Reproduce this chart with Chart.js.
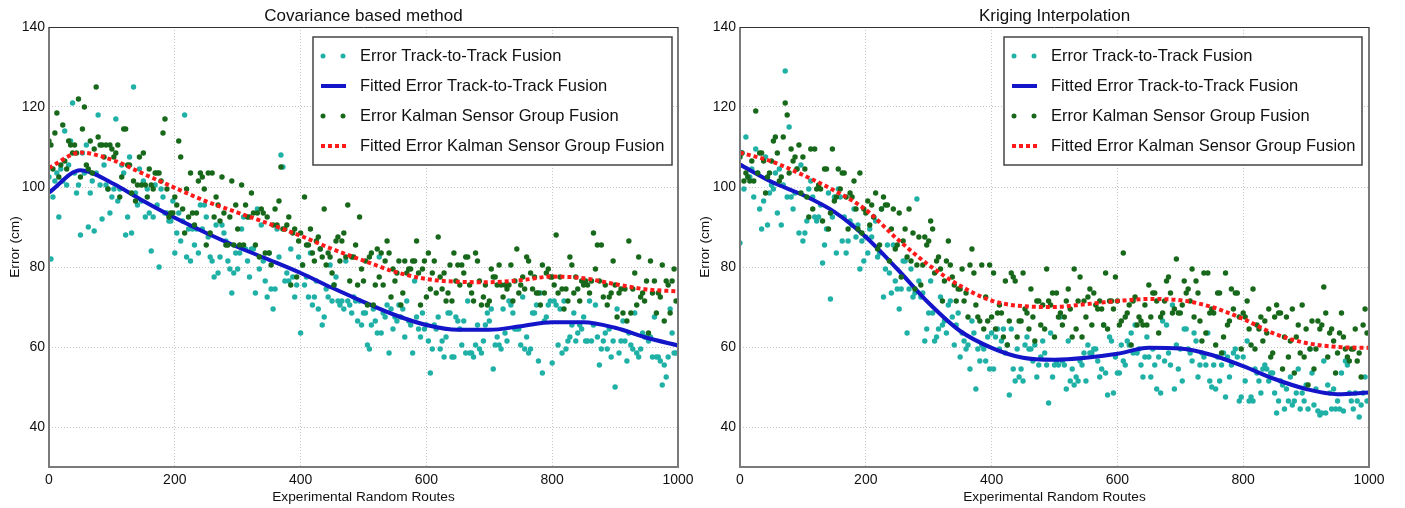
<!DOCTYPE html>
<html>
<head>
<meta charset="utf-8">
<title>Error vs routes</title>
<script src="https://cdn.jsdelivr.net/npm/chart.js@4.4.1/dist/chart.umd.min.js"></script>
<style>
  body { margin: 0; background: #fff; }
  #wrap { position: relative; width: 1405px; height: 508px; }
  canvas { position: absolute; top: 0; }
</style>
</head>
<body>
<div id="wrap">
  <canvas id="left" width="700" height="508" style="left:0"></canvas>
  <canvas id="right" width="715" height="508" style="left:690px"></canvas>
</div>
<script>
// Ticks
const xTicks = [0, 200, 400, 600, 800, 1000];
const yTicks = [40, 60, 80, 100, 120, 140];

// Fitted curves are sampled every 50 routes
const fitRoutes = [0, 50, 100, 150, 200, 250, 300, 350, 400, 450, 500, 550, 600, 650, 700, 750, 800, 850, 900, 950, 1000];

// Covariance based method
const covTrackErr = [
  102.5, 82, 97.5, 101.5, 103.5, 92.5, 104.5, 101.5, 114, 100.5,
  105.5, 111.5, 121, 103.5, 98.5, 100.5, 88, 108.5, 103.5, 110.5,
  90, 98.5, 101.5, 89, 103.5, 118, 100.5, 92, 105.5, 100.5,
  99.5, 93.5, 97.5, 99.5, 117, 96.5, 99.5, 105.5, 103.5, 88,
  92.5, 107.5, 88.5, 125, 98.5, 95.5, 104.5, 96.5, 101.5, 92.5,
  99.5, 93.5, 84, 92.5, 100.5, 95.5, 80, 99.5, 97.5, 93.5,
  93.5, 91.5, 91.5, 96.5, 83.5, 88.5, 93.5, 86.5, 91.5, 118,
  82.5, 89.5, 81.5, 89.5, 85.5, 89.5, 83.5, 95.5, 89.5, 95.5,
  92.5, 87.5, 82.5, 81.5, 77.5, 90.5, 78.5, 82.5, 90.5, 88.5,
  86.5, 81.5, 79.5, 73.5, 78.5, 83.5, 79.5, 83.5, 89.5, 92.5,
  84.5, 81.5, 77.5, 84.5, 84.5, 73.5, 94.5, 79.5, 90.5, 81.5,
  76.5, 72.5, 83.5, 74.5, 69.5, 74.5, 89.5, 82.5, 108, 105,
  76.5, 78.5, 76.5, 84.5, 77.5, 72.5, 75.5, 82.5, 63.5, 80.5,
  75.5, 77.5, 72.5, 83.5, 70.5, 72.5, 76.5, 69.5, 84.5, 65.5,
  67.5, 74.5, 72.5, 80.5, 71.5, 75.5, 77.5, 71.5, 70.5, 71.5,
  69.5, 81.5, 71.5, 70.5, 68.5, 72.5, 71.5, 66.5, 71.5, 65.5,
  68.5, 68.5, 60.5, 59.5, 65.5, 69.5, 66.5, 63.5, 82.5, 63.5,
  68.5, 67.5, 70.5, 58.5, 69.5, 64.5, 67.5, 66.5, 70.5, 67.5,
  69.5, 62.5, 71.5, 66.5, 65.5, 58.5, 76.5, 67.5, 64.5, 62.5,
  68.5, 64.5, 65.5, 61.5, 53.5, 59.5, 65.5, 64.5, 67.5, 59.5,
  61.5, 57.5, 62.5, 68.5, 68.5, 57.5, 57.5, 67.5, 66.5, 64.5,
  60.5, 66.5, 58.5, 71.5, 58.5, 58.5, 57.5, 60.5, 65.5, 59.5,
  58.5, 61.5, 65.5, 68.5, 66.5, 69.5, 54.5, 60.5, 62.5, 60.5,
  59.5, 69.5, 63.5, 61.5, 71.5, 70.5, 68.5, 64.5, 64.5, 64.5,
  60.5, 72.5, 59.5, 62.5, 58.5, 59.5, 68.5, 68.5, 70.5, 56.5,
  73.5, 53.5, 66.5, 67.5, 70.5, 71.5, 56, 71.5, 70.5, 60.5,
  69.5, 58.5, 71.5, 59.5, 61.5, 62.5, 65.5, 68.5, 61.5, 63.5,
  65.5, 64.5, 67.5, 61.5, 61.5, 71.5, 61.5, 65.5, 70.5, 62.5,
  55.5, 59.5, 61.5, 63.5, 59.5, 64.5, 57.5, 61.5, 50, 69.5,
  58.5, 61.5, 66.5, 61.5, 56.5, 63.5, 60.5, 59.5, 68.5, 58.5,
  57.5, 59.5, 63.5, 62.5, 62.5, 61.5, 62.5, 57.5, 67.5, 57.5,
  57.5, 56.5, 50.5, 55.5, 52.5, 57.5, 69.5, 63.5, 58.5, 58.5
];
const covTrackFit = [98.6, 104.2, 101, 96.5, 92.3, 88.5, 85, 81.8, 78.5, 74.8, 71.3, 68, 65.5, 64.3, 64.3, 65.2, 66.2, 66.2, 64.8, 62.3, 60.4];
const covKalmanErr = [
  111.5, 110.5, 104.5, 113.5, 118.5, 102.5, 105.5, 115.5, 106.5, 104.5,
  111.5, 110.5, 108.5, 110.5, 108.5, 122, 102.5, 114.5, 120, 105.5,
  104.5, 111.5, 103.5, 109.5, 125, 112.5, 110.5, 110.5, 107.5, 110.5,
  99.5, 110.5, 109.5, 107.5, 108.5, 110.5, 97.5, 102.5, 114.5, 114.5,
  105.5, 105.5, 98.5, 101.5, 96.5, 100.5, 107.5, 100.5, 108.5, 100.5,
  97.5, 104.5, 100.5, 99.5, 103.5, 103.5, 103.5, 101.5, 113.5, 117,
  99.5, 92.5, 93.5, 93.5, 97.5, 95.5, 111.5, 107.5, 94.5, 88.5,
  99.5, 92.5, 103.5, 93.5, 90.5, 93.5, 101.5, 103.5, 102.5, 99.5,
  85.5, 103.5, 88.5, 103.5, 92.5, 97.5, 95.5, 91.5, 102.5, 93.5,
  85.5, 85.5, 92.5, 101.5, 85.5, 95.5, 89.5, 85.5, 100.5, 85.5,
  95.5, 92.5, 92.5, 98.5, 93.5, 85.5, 93.5, 82.5, 94.5, 93.5,
  83.5, 92.5, 83.5, 80.5, 90.5, 94.5, 90.5, 96.5, 105, 89.5,
  89.5, 90.5, 92.5, 75.5, 88.5, 89.5, 77.5, 86.5, 88.5, 80.5,
  97.5, 85.5, 85.5, 89.5, 83.5, 81.5, 86.5, 87.5, 84.5, 82.5,
  94.5, 80.5, 83.5, 82.5, 78.5, 75.5, 86.5, 87.5, 81.5, 86.5,
  88.5, 82.5, 95.5, 76.5, 82.5, 82.5, 85.5, 75.5, 92.5, 79.5,
  76.5, 81.5, 70.5, 82.5, 83.5, 70.5, 75.5, 84.5, 77.5, 83.5,
  75.5, 81.5, 86.5, 83.5, 72.5, 79.5, 76.5, 78.5, 81.5, 70.5,
  73.5, 81.5, 78.5, 79.5, 79.5, 81.5, 81.5, 86.5, 78.5, 70.5,
  79.5, 81.5, 72.5, 83.5, 74.5, 78.5, 81.5, 73.5, 87.5, 77.5,
  74.5, 78.5, 71.5, 73.5, 80.5, 71.5, 83.5, 76.5, 80.5, 75.5,
  80.5, 78.5, 82.5, 82.5, 75.5, 73.5, 71.5, 83.5, 81.5, 76.5,
  70.5, 72.5, 75.5, 70.5, 71.5, 79.5, 77.5, 77.5, 75.5, 80.5,
  75.5, 72.5, 75.5, 74.5, 75.5, 80.5, 71.5, 76.5, 84.5, 73.5,
  75.5, 77.5, 74.5, 82.5, 81.5, 78.5, 74.5, 77.5, 73.5, 73.5,
  70.5, 80.5, 73.5, 78.5, 79.5, 77.5, 77.5, 75.5, 88, 73.5,
  77.5, 74.5, 69.5, 74.5, 71.5, 82.5, 80.5, 73.5, 77.5, 74.5,
  71.5, 76.5, 75.5, 76.5, 75.5, 73.5, 76.5, 88.5, 79.5, 85.5,
  76.5, 85.5, 72.5, 75.5, 70.5, 72.5, 73.5, 81.5, 75.5, 67.5,
  73.5, 74.5, 68.5, 74.5, 66.5, 86.5, 68.5, 74.5, 78.5, 70.5,
  82.5, 72.5, 73.5, 71.5, 76.5, 63.5, 81.5, 73.5, 76.5, 68.5,
  73.5, 72.5, 80.5, 66.5, 76.5, 75.5, 68.5, 76.5, 79.5, 71.5
];
const covKalmanFit = [104.8, 108.6, 106.8, 103.3, 99.8, 96.4, 93.6, 90.8, 87.8, 84.5, 81.6, 78.8, 77, 76.3, 76.2, 76.7, 77.6, 77.2, 75.7, 74.4, 73.9];

// Kriging interpolation
const krgTrackErr = [
  86, 108.5, 99.5, 112.5, 102.5, 102.5, 104.5, 97.5, 109.5, 103.5,
  94.5, 89.5, 96.5, 107.5, 90.5, 98.5, 100.5, 99.5, 103.5, 93.5,
  104.5, 90.5, 100.5, 129, 97.5, 115, 97.5, 94.5, 98.5, 104.5,
  88.5, 105.5, 86.5, 88.5, 91.5, 99.5, 101.5, 97.5, 92.5, 91.5,
  92.5, 95.5, 81, 85.5, 89.5, 98.5, 72, 92.5, 97.5, 83.5,
  99.5, 97.5, 86.5, 92.5, 83.5, 86.5, 91.5, 90.5, 94.5, 87.5,
  90.5, 79.5, 86.5, 81.5, 87.5, 83.5, 89.5, 87.5, 92.5, 91.5,
  82.5, 83.5, 94.5, 72.5, 79.5, 85.5, 78.5, 73.5, 85.5, 76.5,
  74.5, 69.5, 74.5, 81.5, 81.5, 63.5, 74.5, 79.5, 72.5, 73.5,
  97, 76.5, 72.5, 73.5, 61.5, 64.5, 68.5, 76.5, 68.5, 61.5,
  62.5, 64.5, 72.5, 65.5, 66.5, 63.5, 70.5, 71.5, 67.5, 60.5,
  65.5, 68.5, 57.5, 63.5, 61.5, 59.5, 60.5, 54.5, 66.5, 63.5,
  49.5, 59.5, 56.5, 60.5, 59.5, 56.5, 62.5, 54.5, 63.5, 54.5,
  62.5, 64.5, 59.5, 61.5, 64.5, 58.5, 60.5, 48, 64.5, 54.5,
  51.5, 59.5, 52.5, 54.5, 51.5, 60.5, 62.5, 59.5, 59.5, 56.5,
  60.5, 52.5, 55.5, 57.5, 61.5, 58.5, 55.5, 46, 63.5, 52.5,
  55.5, 56.5, 55.5, 67.5, 56.5, 55.5, 49.5, 61.5, 51.5, 54.5,
  50.5, 52.5, 51.5, 56.5, 55.5, 58.5, 51.5, 60.5, 58.5, 58.5,
  59.5, 59.5, 56.5, 52.5, 54.5, 65.5, 53.5, 48, 62.5, 61.5,
  48.5, 57.5, 53.5, 53.5, 60.5, 56.5, 55.5, 61.5, 60.5, 63.5,
  58.5, 65.5, 58.5, 59.5, 55.5, 52.5, 57.5, 62.5, 57.5, 52.5,
  59.5, 55.5, 49.5, 57.5, 48.5, 66.5, 56.5, 65.5, 58.5, 55.5,
  70.5, 49.5, 60.5, 54.5, 59.5, 51.5, 64.5, 64.5, 59.5, 58.5,
  56.5, 63.5, 61.5, 52.5, 55.5, 58.5, 57.5, 55.5, 63.5, 51.5,
  50, 55.5, 49.5, 57.5, 51.5, 55.5, 58.5, 47.5, 57.5, 52.5,
  55.5, 58.5, 59.5, 57.5, 46.5, 47.5, 57.5, 51.5, 61.5, 46.5,
  47.5, 46.5, 54.5, 53.5, 51.5, 48.5, 54.5, 55.5, 54.5, 51.5,
  53.5, 53.5, 48.5, 43.5, 46.5, 51.5, 50.5, 44.5, 49.5, 46.5,
  52.5, 45.5, 46.5, 48.5, 54.5, 44.5, 48.5, 46.5, 50.5, 44.5,
  59.5, 53.5, 45.5, 49.5, 44, 43, 43.5, 56.5, 43.5, 50.5,
  48.5, 44.5, 49.5, 44.5, 46.5, 44.5, 53.5, 44, 56.5, 55.5,
  48.5, 46.5, 44.5, 48.5, 46.5, 42.5, 45.5, 48.5, 52.5, 46.5
];
const krgTrackFit = [105.6, 101.3, 98, 93.8, 87.5, 79.5, 71, 64, 59.8, 57.3, 56.8, 57.3, 58.3, 59.8, 59.6, 58, 55.2, 52, 49.5, 48.2, 48.6];
const krgKalmanErr = [
  107.5, 108.5, 101.5, 103.5, 102.5, 101.5, 106.5, 101.5, 119, 103.5,
  108.5, 108.5, 106.5, 98.5, 102.5, 103.5, 106.5, 111.5, 112.5, 108.5,
  101.5, 102.5, 112.5, 121, 118, 103.5, 109.5, 106.5, 107.5, 104.5,
  110.5, 98.5, 107.5, 104.5, 97.5, 92.5, 109.5, 94.5, 109.5, 99.5,
  100.5, 99.5, 91.5, 104.5, 104.5, 89.5, 93.5, 109.5, 96.5, 97.5,
  104.5, 99.5, 103.5, 103.5, 97.5, 89.5, 98.5, 97.5, 101.5, 94.5,
  89.5, 103.5, 88.5, 94.5, 93.5, 96.5, 90.5, 95.5, 92.5, 98.5,
  84.5, 85.5, 94.5, 97.5, 95.5, 95.5, 81.5, 89.5, 94.5, 84.5,
  85.5, 93.5, 77.5, 86.5, 89.5, 82.5, 94.5, 81.5, 88.5, 74.5,
  80.5, 87.5, 75.5, 80.5, 87.5, 85.5, 86.5, 91.5, 89.5, 78.5,
  81.5, 82.5, 79.5, 71.5, 76.5, 81.5, 86.5, 80.5, 77.5, 75.5,
  71.5, 74.5, 74.5, 79.5, 71.5, 73.5, 67.5, 80.5, 84.5, 78.5,
  70.5, 67.5, 66.5, 80.5, 64.5, 72.5, 66.5, 80.5, 67.5, 78.5,
  64.5, 68.5, 70.5, 68.5, 62.5, 76.5, 60.5, 66.5, 78.5, 77.5,
  76.5, 62.5, 66.5, 66.5, 78.5, 69.5, 68.5, 64.5, 74.5, 67.5,
  61.5, 71.5, 71.5, 65.5, 70.5, 64.5, 79.5, 71.5, 70.5, 73.5,
  62.5, 73.5, 67.5, 68.5, 65.5, 67.5, 71.5, 74.5, 69.5, 62.5,
  79.5, 64.5, 71.5, 77.5, 62.5, 71.5, 67.5, 72.5, 74.5, 65.5,
  73.5, 70.5, 69.5, 71.5, 69.5, 65.5, 78.5, 64.5, 71.5, 71.5,
  69.5, 77.5, 71.5, 65.5, 66.5, 83.5, 67.5, 68.5, 70.5, 60.5,
  71.5, 72.5, 65.5, 67.5, 66.5, 65.5, 70.5, 65.5, 75.5, 67.5,
  73.5, 73.5, 71.5, 63.5, 67.5, 68.5, 71.5, 76.5, 77.5, 73.5,
  68.5, 69.5, 82, 68.5, 68.5, 70.5, 76.5, 73.5, 74.5, 71.5,
  79.5, 67.5, 76.5, 73.5, 66.5, 61.5, 78.5, 63.5, 78.5, 68.5,
  69.5, 68.5, 60.5, 73.5, 73.5, 58.5, 62.5, 78.5, 65.5, 66.5,
  74.5, 69.5, 73.5, 73.5, 67.5, 59.5, 68.5, 67.5, 71.5, 64.5,
  60.5, 74.5, 59.5, 65.5, 64.5, 67.5, 61.5, 66.5, 63.5, 69.5,
  57.5, 58.5, 67.5, 70.5, 68.5, 68.5, 54.5, 62.5, 67.5, 57.5,
  61.5, 69.5, 53.5, 62.5, 65.5, 58.5, 70.5, 57.5, 64.5, 50.5,
  59.5, 66.5, 54.5, 59.5, 66.5, 64.5, 65.5, 75, 68.5, 57.5,
  63.5, 64.5, 61.5, 53.5, 58.5, 63.5, 68.5, 62.5, 59.5, 57.5,
  56.5, 59.5, 59.5, 64.5, 56.5, 58.5, 52.5, 65.5, 69.5, 63.5
];
const krgKalmanFit = [108.6, 106.4, 103, 99.1, 94.3, 87, 80.5, 75.3, 71.6, 70.2, 70, 70.7, 71.5, 72, 71.7, 70, 67, 63.3, 61, 60, 59.8];

// one measurement every 3.125 routes
const routes = covTrackErr.map((_, i) => i * 3.125);

const FONT = "'Liberation Sans', Arial, sans-serif";
const CYAN = '#1fb0a6';
const GREEN = '#17681a';
const BLUE = '#1414c8';
const RED = '#ff1a1a';

// Рамка вокруг поля диаграммы
const chartAreaBorder = {
  id: 'chartAreaBorder',
  afterDatasetsDraw(chart) {
    const { ctx, chartArea: { left, top, right, bottom } } = chart;
    ctx.save();
    ctx.strokeStyle = '#7a7a7a';
    ctx.lineWidth = 2;
    ctx.beginPath();
    ctx.moveTo(left, top);
    ctx.lineTo(left, bottom);
    ctx.lineTo(right, bottom);
    ctx.lineTo(right, top);
    ctx.stroke();
    ctx.strokeStyle = '#333';
    ctx.lineWidth = 1;
    ctx.beginPath();
    ctx.moveTo(left, top + 0.5);
    ctx.lineTo(right, top + 0.5);
    ctx.stroke();
    ctx.restore();
  },
};

// Легенда в рамке в правом верхнем углу
const boxLegend = {
  id: 'boxLegend',
  afterDraw(chart, args, opts) {
    const { ctx, chartArea: { top, right } } = chart;
    const w = opts.width;
    const h = 128;
    const x0 = right - opts.gap - w;
    const y0 = top + 10;
    ctx.save();
    ctx.fillStyle = '#fff';
    ctx.fillRect(x0, y0, w, h);
    ctx.strokeStyle = '#444';
    ctx.lineWidth = 1.5;
    ctx.strokeRect(x0, y0, w, h);
    ctx.font = `16.5px ${FONT}`;
    ctx.textBaseline = 'middle';
    chart.data.datasets.forEach((ds, i) => {
      const cy = y0 + 19 + i * 30;
      if (ds.showLine) {
        ctx.strokeStyle = ds.borderColor;
        ctx.lineWidth = 4;
        ctx.setLineDash(ds.borderDash || []);
        ctx.beginPath();
        ctx.moveTo(x0 + 8, cy);
        ctx.lineTo(x0 + 33, cy);
        ctx.stroke();
        ctx.setLineDash([]);
      } else {
        ctx.fillStyle = ds.backgroundColor;
        [x0 + 10, x0 + 30].forEach((px) => {
          ctx.beginPath();
          ctx.arc(px, cy, 2.5, 0, Math.PI * 2);
          ctx.fill();
        });
      }
      ctx.fillStyle = '#111';
      ctx.fillText(ds.label, x0 + 47, cy);
    });
    ctx.restore();
  },
};

function points(ys, xs) {
  return ys.map((y, i) => ({ x: xs[i], y }));
}

function makePanel(canvas, title, trackErr, trackFit, kalmanErr, kalmanFit, axisWidth, rightPad, legendWidth, legendGap) {
  const scatter = (label, ys, color, order) => ({
    label,
    data: points(ys, routes),
    showLine: false,
    backgroundColor: color,
    borderWidth: 0,
    pointRadius: 2.7,
    order,
  });
  const fitted = (label, ys, color, dash, order) => ({
    label,
    data: points(ys, fitRoutes),
    showLine: true,
    borderColor: color,
    backgroundColor: color,
    borderWidth: 4,
    borderDash: dash,
    pointRadius: 0,
    cubicInterpolationMode: 'monotone',
    order,
  });

  const gridOpts = { color: '#c4c4c4', lineWidth: 1, drawTicks: false };
  const tickFont = { family: FONT, size: 14 };

  new Chart(canvas, {
    type: 'scatter',
    data: {
      datasets: [
        scatter('Error Track-to-Track Fusion', trackErr, CYAN, 4),
        fitted('Fitted Error Track-to-Track Fusion', trackFit, BLUE, [], 3),
        scatter('Error Kalman Sensor Group Fusion', kalmanErr, GREEN, 2),
        fitted('Fitted Error Kalman Sensor Group Fusion', kalmanFit, RED, [4, 3], 1),
      ],
    },
    options: {
      responsive: false,
      animation: false,
      layout: { padding: { left: 0, right: rightPad, top: 0, bottom: 0 } },
      plugins: {
        legend: { display: false },
        tooltip: { enabled: false },
        title: {
          display: true,
          text: title,
          fullSize: false,
          color: '#111',
          font: { family: FONT, size: 17, weight: 'normal', lineHeight: 20 / 17 },
          padding: { top: 6, bottom: 1 },
        },
        boxLegend: { width: legendWidth, gap: legendGap },
      },
      scales: {
        x: {
          type: 'linear',
          min: 0,
          max: 1000,
          afterBuildTicks: (scale) => { scale.ticks = xTicks.map((v) => ({ value: v })); },
          afterFit: (scale) => { scale.height = 41; },
          grid: gridOpts,
          border: { display: false, dash: [1, 2] },
          ticks: { color: '#111', padding: 5, maxRotation: 0, autoSkip: false, font: tickFont, callback: (v) => String(v) },
          title: {
            display: true,
            text: 'Experimental Random Routes',
            color: '#111',
            font: { family: FONT, size: 13.7, lineHeight: 1.2 },
            padding: { top: 0, bottom: 3 },
          },
        },
        y: {
          min: 30,
          max: 140,
          afterBuildTicks: (scale) => { scale.ticks = yTicks.map((v) => ({ value: v })); },
          afterFit: (scale) => { scale.width = axisWidth; },
          grid: gridOpts,
          border: { display: false, dash: [1, 2] },
          ticks: { color: '#111', padding: 4, font: tickFont, callback: (v) => String(v) },
          title: {
            display: true,
            text: 'Error (cm)',
            color: '#111',
            font: { family: FONT, size: 13.7, lineHeight: 1.2 },
            padding: { top: 7, bottom: 0 },
          },
        },
      },
    },
    plugins: [chartAreaBorder, boxLegend],
  });
}

makePanel(document.getElementById('left'), 'Covariance based method',
  covTrackErr, covTrackFit, covKalmanErr, covKalmanFit, 49, 22, 359, 6);
makePanel(document.getElementById('right'), 'Kriging Interpolation',
  krgTrackErr, krgTrackFit, krgKalmanErr, krgKalmanFit, 50, 36, 358, 7);
</script>
</body>
</html>
